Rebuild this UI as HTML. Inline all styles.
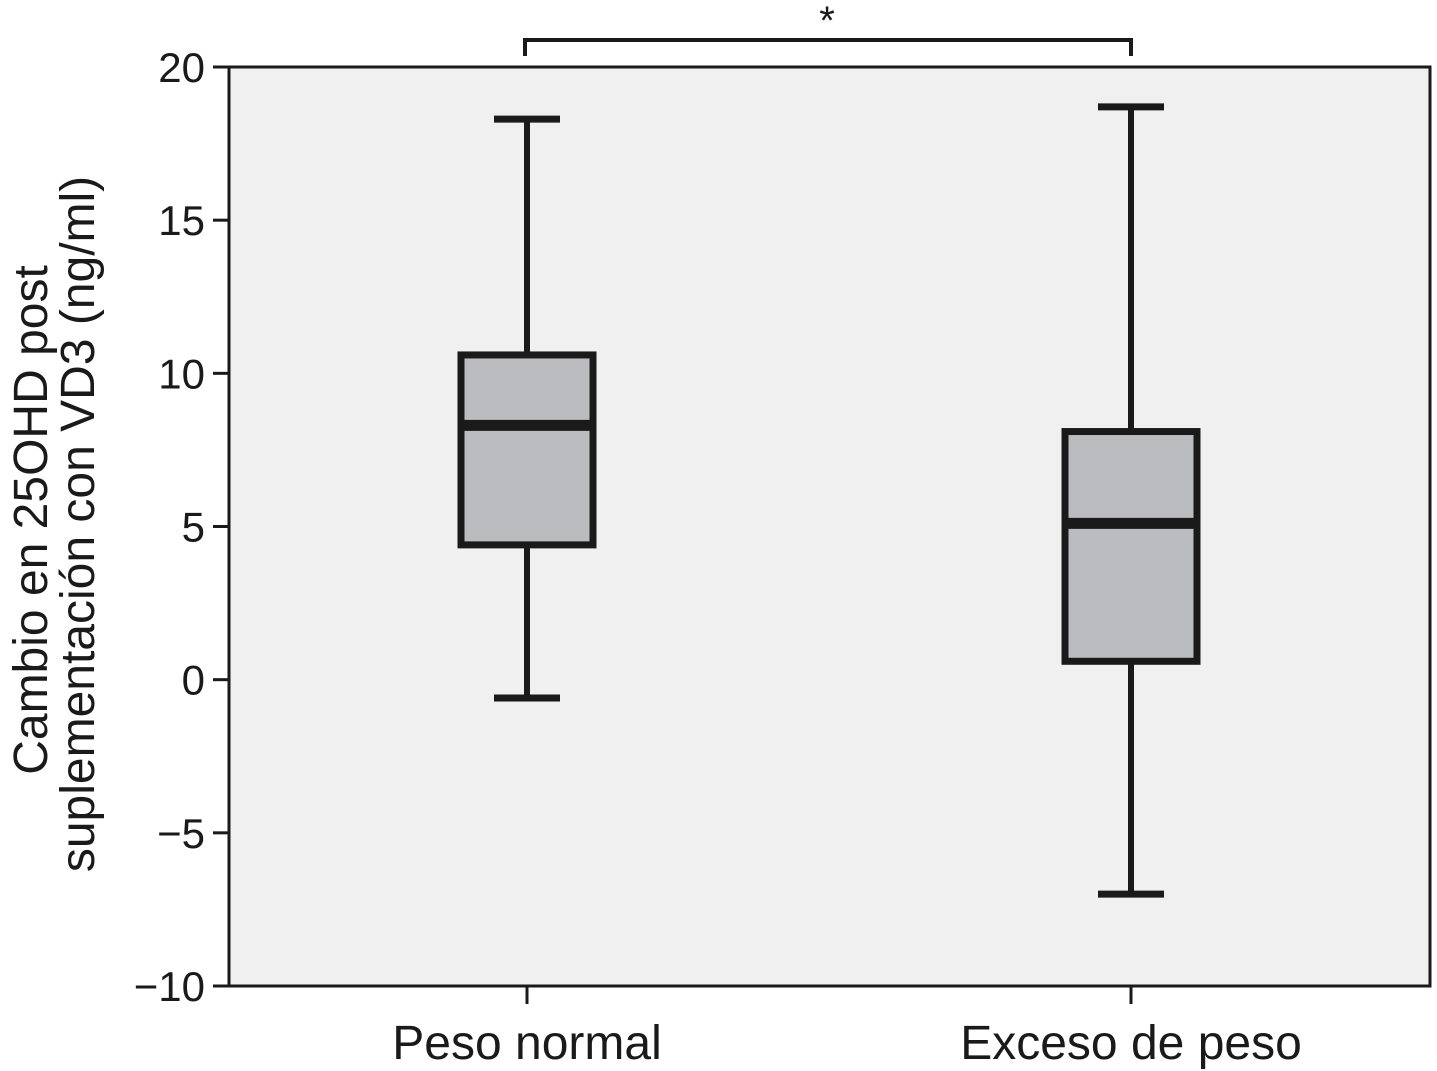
<!DOCTYPE html>
<html><head><meta charset="utf-8"><style>
html,body{margin:0;padding:0;background:#fff;}
svg{display:block;font-family:"Liberation Sans",Arial,sans-serif;}
</style></head><body>
<svg id="chart" width="1437" height="1071" viewBox="0 0 1437 1071" xmlns="http://www.w3.org/2000/svg">
<rect x="229" y="67" width="1201" height="919" fill="#f0f0f0" stroke="#1a1a1a" stroke-width="3"/>
<g id="yaxis"></g>
<g id="xaxis"></g>
<g id="boxes"></g>
<g font-size="48" fill="#1a1a1a" text-anchor="middle">
<text transform="translate(47,520) rotate(-90)">Cambio en 25OHD post</text>
<text transform="translate(94,524) rotate(-90)">suplementación con VD3 (ng/ml)</text>
</g>
<g>
<path d="M525,56 V40 H1131 V56" fill="none" stroke="#1a1a1a" stroke-width="4"/>
<text x="827" y="34" font-size="40" text-anchor="middle" fill="#1a1a1a">*</text>
</g>
</svg>
<script>
const categories = ["Peso normal", "Exceso de peso"];
const whiskerLow = [-0.6, -7.0];
const q1 = [4.4, 0.6];
const medians = [8.3, 5.1];
const q3 = [10.6, 8.1];
const whiskerHigh = [18.3, 18.7];
const yTicks = [20, 15, 10, 5, 0, -5, -10];
const yTickLabels = ["20", "15", "10", "5", "0", "\u22125", "\u221210"];

const NS = "http://www.w3.org/2000/svg";
const top0 = 67, bot0 = 986, left0 = 229, right0 = 1430;
const yMin = -10, yMax = 20;
function y(v){ return bot0 - (v - yMin) / (yMax - yMin) * (bot0 - top0); }
const xCenters = [527, 1131];
function x(i){ return xCenters[i]; }
function mk(tag, attrs, parent){ const e = document.createElementNS(NS, tag); for (const k in attrs) e.setAttribute(k, attrs[k]); parent.appendChild(e); return e; }

const ya = document.getElementById('yaxis');
yTicks.forEach((t, i) => {
  const l = mk('line', {x1: left0 - 16, x2: left0, y1: y(t), y2: y(t), stroke: '#1a1a1a', 'stroke-width': 3}, ya);
  
  
  const tx = mk('text', {x: left0 - 24, y: y(t) + 15, 'font-size': 42, 'text-anchor': 'end', fill: '#1a1a1a'}, ya);
  tx.textContent = yTickLabels[i];
  
  
});
const xa = document.getElementById('xaxis');
categories.forEach((c, i) => {
  const l = mk('line', {x1: x(i), x2: x(i), y1: bot0, y2: bot0 + 18, stroke: '#1a1a1a', 'stroke-width': 3}, xa);
  
  
  const tx = mk('text', {x: x(i), y: 1059, 'font-size': 48, 'text-anchor': 'middle', fill: '#1a1a1a'}, xa);
  tx.textContent = c;
  
  
});
const bx = document.getElementById('boxes');
categories.forEach((c, i) => {
  const g = mk('g', {}, bx);
  
  
  const cx = x(i), hw = 66, cw = 33;
  mk('line', {x1: cx, x2: cx, y1: y(whiskerHigh[i]), y2: y(q3[i]), stroke: '#1a1a1a', 'stroke-width': 6}, g);
  mk('line', {x1: cx, x2: cx, y1: y(q1[i]), y2: y(whiskerLow[i]), stroke: '#1a1a1a', 'stroke-width': 6}, g);
  mk('line', {x1: cx - cw, x2: cx + cw, y1: y(whiskerHigh[i]), y2: y(whiskerHigh[i]), stroke: '#1a1a1a', 'stroke-width': 7}, g);
  mk('line', {x1: cx - cw, x2: cx + cw, y1: y(whiskerLow[i]), y2: y(whiskerLow[i]), stroke: '#1a1a1a', 'stroke-width': 7}, g);
  mk('rect', {x: cx - hw, y: y(q3[i]), width: hw * 2, height: y(q1[i]) - y(q3[i]), fill: '#bbbcc0', stroke: '#1a1a1a', 'stroke-width': 7}, g);
  mk('line', {x1: cx - hw, x2: cx + hw, y1: y(medians[i]), y2: y(medians[i]), stroke: '#1a1a1a', 'stroke-width': 11}, g);
});
</script>
</body></html>
